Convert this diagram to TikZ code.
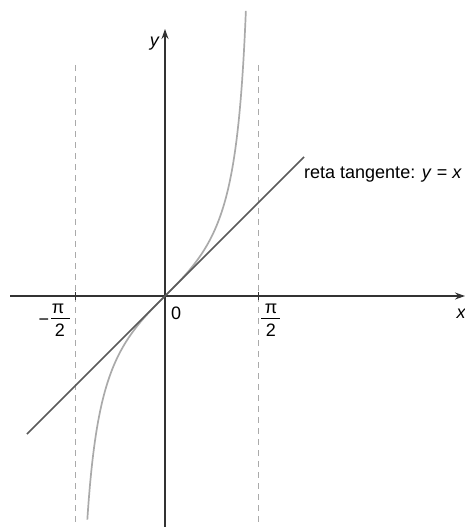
\documentclass[tikz,border=0pt]{standalone}
\usepackage{fontspec}
\setmainfont{Liberation Sans}
\usetikzlibrary{arrows.meta}
\definecolor{axiscol}{HTML}{333333}
\definecolor{tancol}{HTML}{5A5A5A}
\definecolor{curvecol}{HTML}{AAAAAA}
\definecolor{dashcol}{HTML}{AAAAAA}
\tikzset{
  axisline/.style={draw=axiscol, line width=1.3pt, -{Stealth[length=10pt,width=7pt]}},
  tanline/.style={draw=tancol, line width=1.5pt},
  curveline/.style={draw=curvecol, line width=1.7pt},
  asym/.style={draw=dashcol, line width=0.9pt, dash pattern=on 6pt off 5pt},
  lbl/.style={font=\fontsize{18}{20}\selectfont, text=black, inner sep=0pt},
  fracbar/.style={draw=black, line width=1pt},
}
\begin{document}
\begin{tikzpicture}[x=1pt,y=-1pt]
\useasboundingbox (0,0) rectangle (465,527);
% coordinates
\coordinate (O) at (165,296);
\coordinate (xs) at (10,296);
\coordinate (xe) at (465,296);
\coordinate (ys) at (165,527);
\coordinate (ye) at (165,29);
\coordinate (al1) at (75,65);
\coordinate (al2) at (75,527);
\coordinate (ar1) at (258,65);
\coordinate (ar2) at (258,527);
\coordinate (t1) at (27,434);
\coordinate (t2) at (304,157);
% asymptotes
\draw[asym] (al1) -- (al2);
\draw[asym] (ar1) -- (ar2);
% curve
\draw[curveline] plot[domain=-1.312:1.3685, samples=300, smooth] ({165+59.2*\x},{296-59.2*tan(\x r)});
% axes
\draw[axisline] (xs) -- (xe);
\draw[axisline] (ys) -- (ye);
% ticks
\draw[draw=axiscol, line width=1pt] (75,292) -- (75,300);
\draw[draw=axiscol, line width=1pt] (258,292) -- (258,300);
% tangent
\draw[tanline] (t1) -- (t2);
% labels
\node[lbl, anchor=base east] (ylab) at (159,47) {\itshape y};
\node[lbl, anchor=base] (xlab) at (461,318) {\itshape x};
\node[lbl, anchor=base west] (zero) at (171,319) {0};
% pi/2
\node[lbl, anchor=base] (pirn) at (271,313) {π};
\node[lbl, anchor=base] (pird) at (271,336) {2};
\draw[fracbar] (261,318) -- (280,318);
% -pi/2
\node[lbl, anchor=base] (piln) at (58,313) {π};
\node[lbl, anchor=base] (pild) at (60,336) {2};
\draw[fracbar] (51,318) -- (70,318);
\node[lbl, anchor=base] (minus) at (44,325) {−};
% tangent label
\node[lbl, anchor=base west] (tlab) at (304,178) {reta tangente: \textit{y} = \textit{x}};
\end{tikzpicture}
\end{document}
